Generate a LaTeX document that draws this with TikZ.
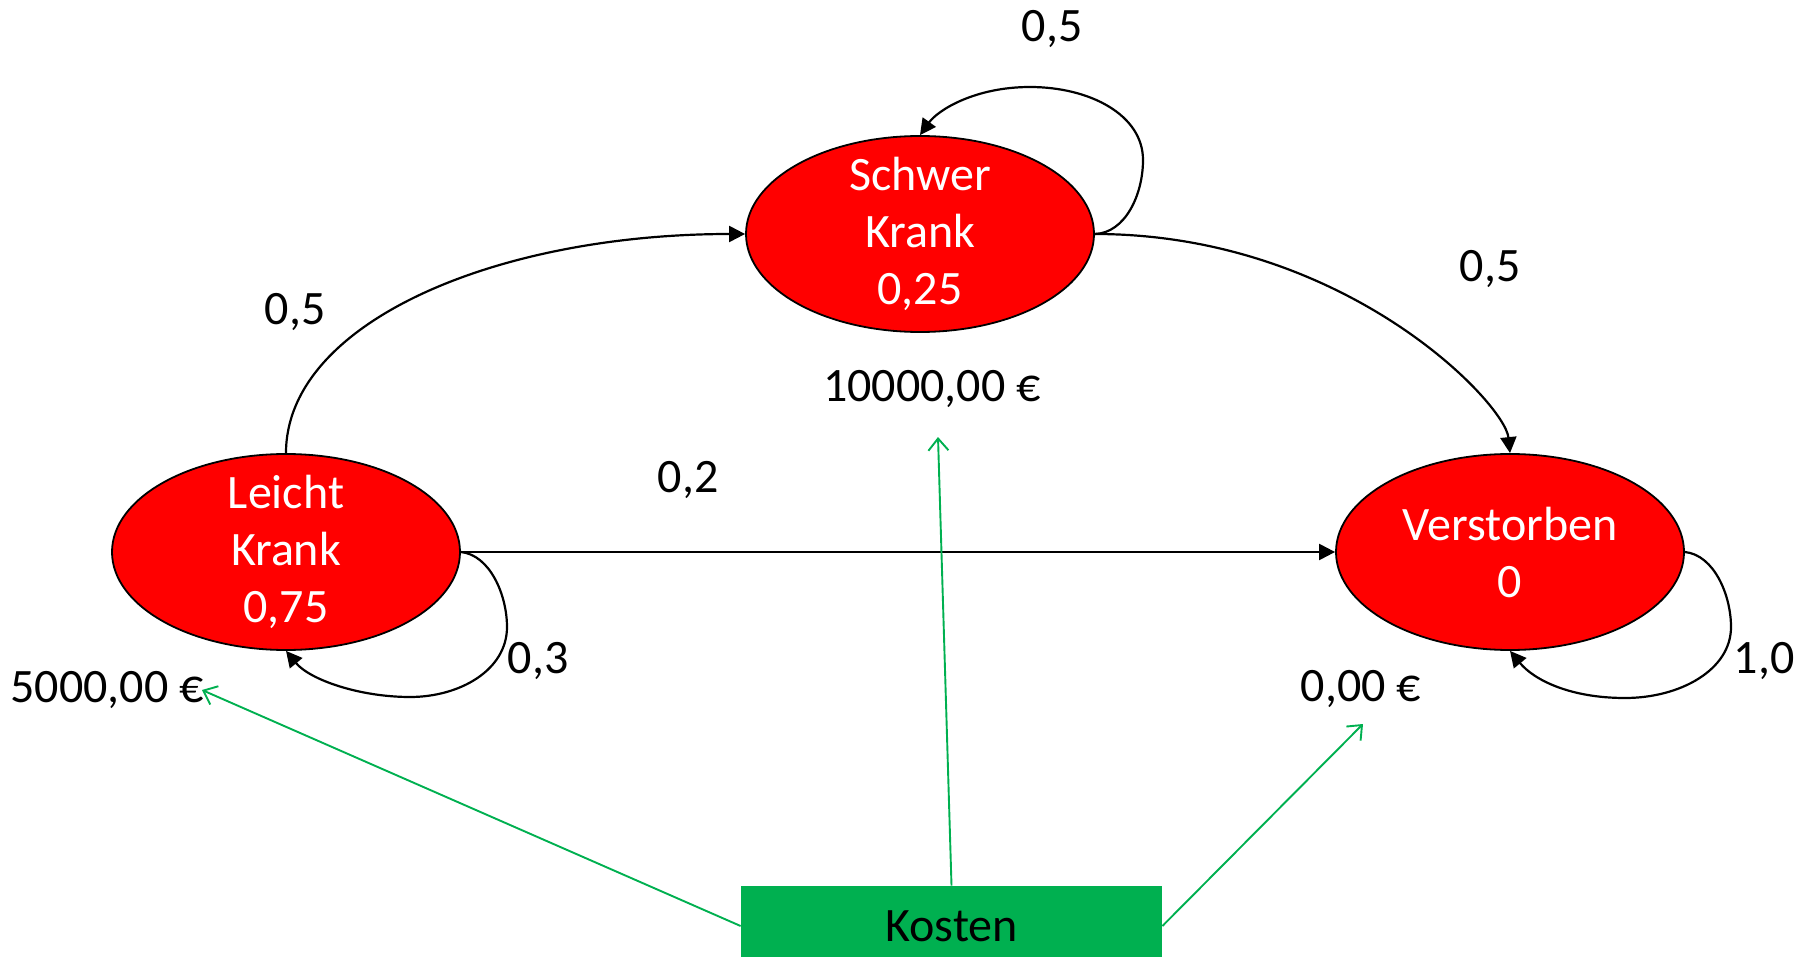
\documentclass[tikz,border=0pt]{standalone}
\usepackage{fontspec}
\setmainfont{Carlito}
\usetikzlibrary{arrows.meta,shapes.geometric}
\definecolor{statered}{RGB}{255,0,0}
\definecolor{costgreen}{RGB}{0,176,80}

\begin{document}
\begin{tikzpicture}[x=0.5pt,y=-0.5pt,
  state/.style={ellipse, draw=black, line width=0.9pt, fill=statered,
    text=white, minimum width=174pt, minimum height=98pt,
    inner xsep=0pt, inner ysep=-6pt,
    align=center, font=\fontsize{24}{28.5}\selectfont},
  lbl/.style={anchor=base, inner sep=0pt, font=\fontsize{24}{28.5}\selectfont},
  trans/.style={line width=1.1pt, -{Triangle[length=8pt,width=8pt]}},
  costarrow/.style={draw=costgreen, line width=0.95pt,
    -{Straight Barb[length=6pt,width=10pt]}},
  costbox/.style={fill=costgreen, minimum width=210.5pt, minimum height=40pt,
    inner sep=0pt, font=\fontsize{24}{28.5}\selectfont},
]
\clip (0,0) rectangle (1810,957);

% states of the Markov chain
\node[state] (S) at (920,234) {Schwer\\Krank\\0,25};
\node[state] (L) at (286,552) {Leicht\\Krank\\0,75};
\node[state] (V) at (1510,552) {Verstorben\\0};

% transitions
\draw[trans] (L.north) .. controls +(0,-130) and +(-250,0) .. (S.west);
\draw[trans] (S.east) .. controls +(250,0) and +(-5,-50) .. (V.north);
\draw[trans] (L.east) -- (V.west);

% self loops
\draw[trans] (S.east) .. controls (1125,233) and (1143,195) .. (1143,160)
  .. controls (1143,115) and (1090,87) .. (1030,87)
  .. controls (975,87) and (938,110) .. (S.north);
\draw[trans] (L.east) .. controls (490,555) and (507,595) .. (507,627)
  .. controls (507,670) and (460,697) .. (410,697)
  .. controls (360,697) and (310,680) .. (L.south);
\draw[trans] (V.east) .. controls (1714,555) and (1731,595) .. (1731,627)
  .. controls (1731,670) and (1680,698) .. (1625,698)
  .. controls (1570,698) and (1534,680) .. (V.south);

% transition probabilities
\node[lbl] (pSS) at (1052,42) {0,5};
\node[lbl] (pLS) at (295,325) {0,5};
\node[lbl] (pSV) at (1490,282) {0,5};
\node[lbl] (pLV) at (688,492) {0,2};
\node[lbl] (pLL) at (538,673) {0,3};
\node[lbl] (pVV) at (1764,673) {1,0};

% costs per state
\node[lbl] (cS) at (932,401) {10000,00 €};
\node[lbl] (cL) at (107,702) {5000,00 €};
\node[lbl] (cV) at (1361,701) {0,00 €};

\node[costbox] (K) at (951.5,926) {Kosten};
\coordinate (tL) at (202,690);
\coordinate (tS) at (938,437);
\coordinate (tV) at (1363,724);
\draw[costarrow] (K.west) -- (tL);
\draw[costarrow] (K.north) -- (tS);
\draw[costarrow] (K.east) -- (tV);
\end{tikzpicture}
\end{document}
